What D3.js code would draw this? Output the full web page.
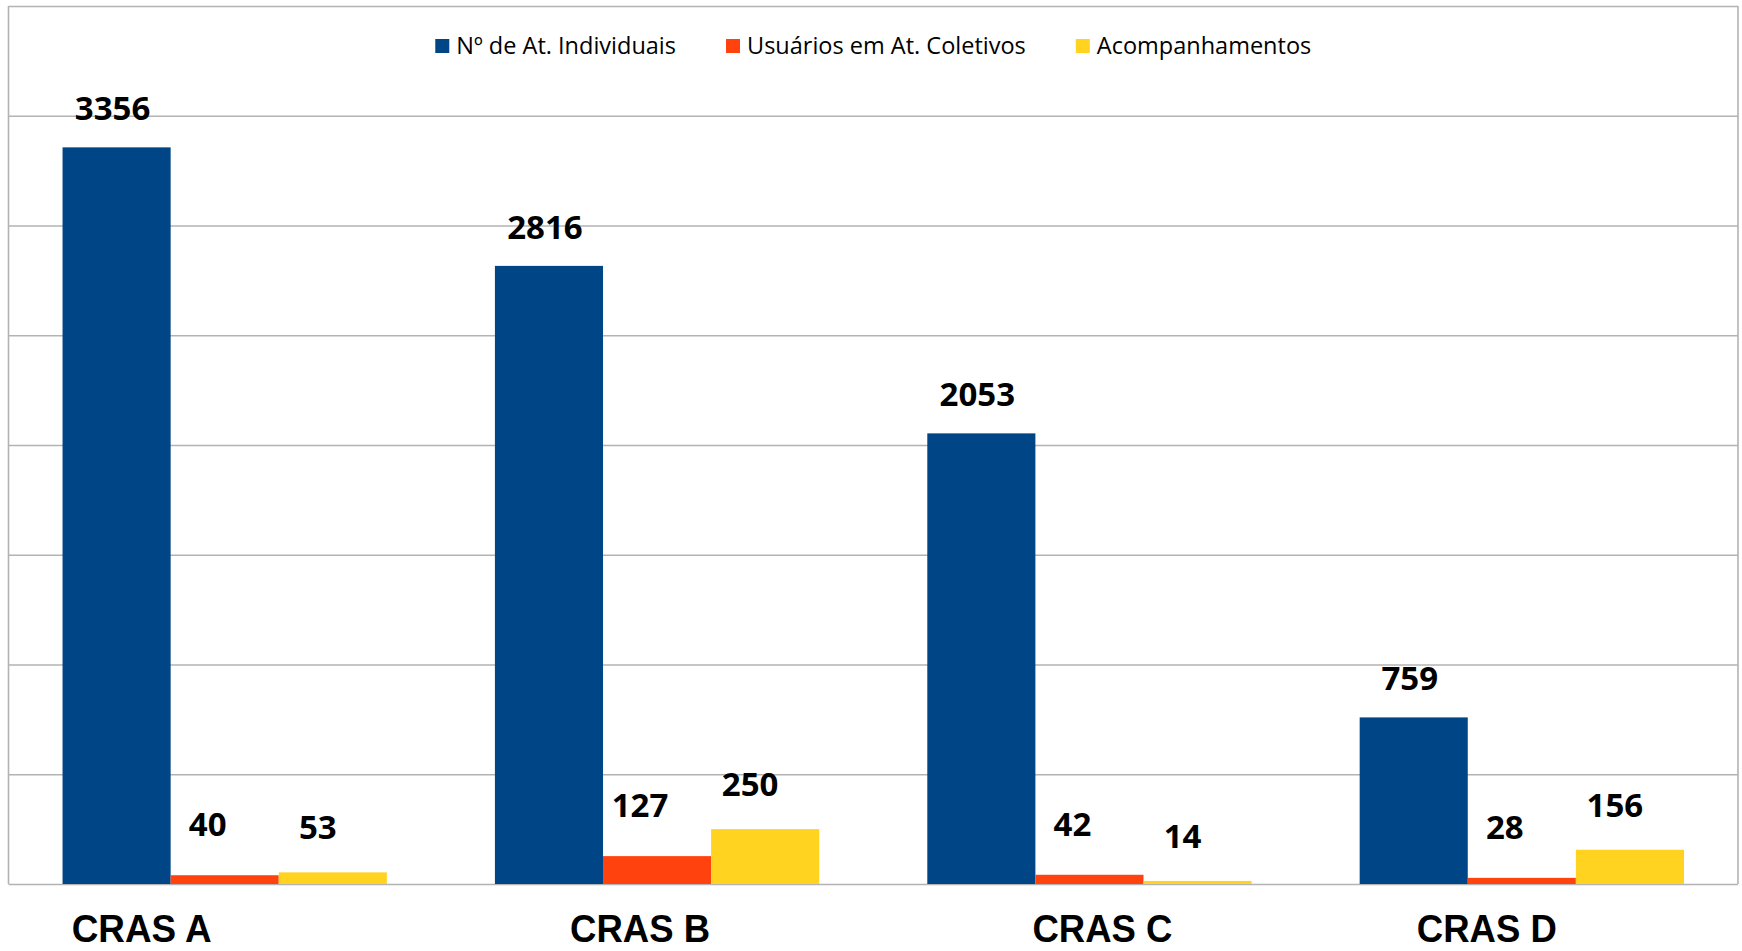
<!DOCTYPE html>
<html>
<head>
<meta charset="utf-8">
<script src="https://cdn.jsdelivr.net/npm/d3@7"></script>
<style>
  body { margin: 0; background: #ffffff; }
  .grid line { stroke: #b3b3b3; stroke-width: 1.6; }
  .value { font-family: "Open Sans", sans-serif; font-weight: bold; font-size: 33px; fill: #000; }
  .legend text { font-family: "Open Sans", sans-serif; font-size: 23.5px; fill: #000; }
  .cat { font-family: "Liberation Sans", Arial, sans-serif; font-weight: bold; font-size: 38px; fill: #000; }
</style>
</head>
<body>
<div id="chart"></div>
<script>
const WIDTH = 1742;
const HEIGHT = 951;
const PLOT = {left: 8.5, right: 1738, top: 6, bottom: 884};

// data
const categories = ["CRAS A", "CRAS B", "CRAS C", "CRAS D"];
const seriesNames = ["Nº de At. Individuais", "Usuários em At. Coletivos", "Acompanhamentos"];
const individuais = [3356, 2816, 2053, 759];
const coletivos = [40, 127, 42, 28];
const acompanhamentos = [53, 250, 14, 156];
const yTicks = [0, 500, 1000, 1500, 2000, 2500, 3000, 3500, 4000];

const COLORS = ["#004586", "#ff420e", "#ffd320"];
// label nudges (hand placed in the original)
const VALUE_DX = [-4, -17, -15];
const VALUE_GAP = [27, 39, 33];
const CAT_SHIFT = [-83, -17, 13, -35];

const seriesValues = [individuais, coletivos, acompanhamentos];

const svg = d3.select("#chart")
  .append("svg")
    .attr("width", WIDTH)
    .attr("height", HEIGHT);

const X = d3.scaleBand()
  .domain(categories)
  .range([PLOT.left, PLOT.right])
  .paddingInner(0)
  .paddingOuter(0);

const X_INNER = d3.scaleBand()
  .domain(seriesNames)
  .range([X.bandwidth() * 0.125, X.bandwidth() * 0.875]);

const Y = d3.scaleLinear()
  .domain([0, d3.max(yTicks)])
  .range([PLOT.bottom, PLOT.top]);

// gridlines
svg.append("g")
    .attr("class", "grid")
    .attr("transform", "translate(" + PLOT.left + ",0)")
  .call(d3.axisLeft(Y).tickValues(yTicks).tickSize(-(PLOT.right - PLOT.left)).tickFormat(""))
  .call(g => g.select(".domain").remove());

// frame sides
svg.append("line")
  .attr("x1", PLOT.left).attr("x2", PLOT.left)
  .attr("y1", Y(4000)).attr("y2", Y(0))
  .attr("stroke", "#b3b3b3").attr("stroke-width", 1.6);
svg.append("line")
  .attr("x1", PLOT.right).attr("x2", PLOT.right)
  .attr("y1", Y(4000)).attr("y2", Y(0))
  .attr("stroke", "#b3b3b3").attr("stroke-width", 1.6);

// rows of [category, series index, value]
const rows = [];
categories.forEach((c, i) => {
  seriesValues.forEach((vals, s) => {
    rows.push({cat: c, s: s, v: vals[i]});
  });
});

svg.selectAll("rect.bar")
  .data(rows)
  .enter()
  .append("rect")
    .attr("class", "bar")
    .attr("x", d => X(d.cat) + X_INNER(seriesNames[d.s]))
    .attr("width", X_INNER.bandwidth())
    .attr("y", d => Y(d.v))
    .attr("height", d => Y(0) - Y(d.v))
    .attr("fill", d => COLORS[d.s]);

svg.selectAll("text.value")
  .data(rows)
  .enter()
  .append("text")
    .attr("class", "value")
    .attr("text-anchor", "middle")
    .attr("x", d => X(d.cat) + X_INNER(seriesNames[d.s]) + X_INNER.bandwidth() / 2 + VALUE_DX[d.s])
    .attr("y", d => Y(d.v) - VALUE_GAP[d.s])
    .text(d => d.v);

// category labels
svg.selectAll("text.cat")
  .data(categories)
  .enter()
  .append("text")
    .attr("class", "cat")
    .attr("text-anchor", "middle")
    .attr("x", (d, i) => X(d) + X.bandwidth() / 2 + CAT_SHIFT[i])
    .attr("y", 942)
    .attr("textLength", 140)
    .attr("lengthAdjust", "spacingAndGlyphs")
    .text(d => d);

// legend
const legend = svg.append("g").attr("class", "legend");
let lx = 0;
seriesNames.forEach((name, i) => {
  const item = legend.append("g").attr("transform", "translate(" + lx + ",0)");
  item.append("rect")
    .attr("x", 0).attr("y", 39)
    .attr("width", 14).attr("height", 14)
    .attr("fill", COLORS[i]);
  const t = item.append("text")
    .attr("x", 21).attr("y", 54)
    .text(name);
  lx += 21 + t.node().getComputedTextLength() + 50;
});
const legendW = lx - 50;
legend.attr("transform", "translate(" + ((PLOT.left + PLOT.right) / 2 - legendW / 2) + ",0)");
</script>
</body>
</html>
